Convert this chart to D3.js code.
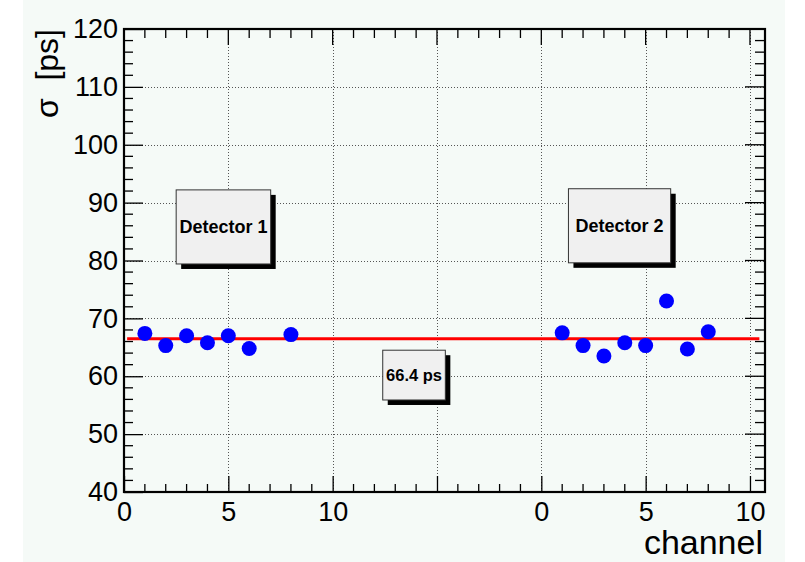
<!DOCTYPE html>
<html>
<head>
<meta charset="utf-8">
<script src="https://cdn.jsdelivr.net/npm/d3@7"></script>
<style>
  html, body { margin: 0; padding: 0; background: #ffffff; }
  svg { display: block; }
  text { font-family: "Liberation Sans", Arial, Helvetica, sans-serif; }
</style>
</head>
<body>
<svg id="chart" width="805" height="562"></svg>
<script>
// ---------------- data ----------------
const det1Channels = [1, 2, 3, 4, 5, 6, 8];
const det1Sigma    = [67.4, 65.3, 67.0, 65.8, 67.0, 64.8, 67.2];
const det2Offset   = 20;
const det2Channels = [1, 2, 3, 4, 5, 6, 7, 8];
const det2Sigma    = [67.5, 65.3, 63.5, 65.8, 65.3, 73.0, 64.7, 67.7];
const fitValue     = 66.5;
const fitRange     = [0.15, 30.45];
const fitLabel     = "66.4 ps";

const xDomain = [0, 30.72];
const yDomain = [40, 120];
const xTickValues = [0, 5, 10, 15, 20, 25, 30];
const xTickLabels = ["0", "5", "10", "", "0", "5", "10"];
const yTickValues = [40, 50, 60, 70, 80, 90, 100, 110, 120];
const yTickLabels = ["40", "50", "60", "70", "80", "90", "100", "110", "120"];
const xTitle = "channel";
const yTitle = "σ  [ps]";

// annotation boxes in data coordinates
const boxLabels = ["Detector 1", "Detector 2", fitLabel];
const boxX0 = [2.5, 21.3, 12.4];
const boxX1 = [7.03, 26.2, 15.4];
const boxY0 = [79.4, 79.6, 55.9];
const boxY1 = [92.2, 92.4, 64.5];
const boxFont = [18, 18, 16.5];

// ---------------- layout ----------------
const svg = d3.select("#chart");
const pLeft = 124, pRight = 765, pTop = 29, pBottom = 492;
const x = d3.scaleLinear().domain(xDomain).range([pLeft, pRight]);
const y = d3.scaleLinear().domain(yDomain).range([pBottom, pTop]);

// canvas background
svg.append("rect").attr("x", 23).attr("y", 0).attr("width", 762).attr("height", 562)
  .attr("fill", "#f5faf7");

// grid
const grid = svg.append("g").attr("stroke", "#555").attr("stroke-width", 1)
  .attr("stroke-dasharray", "1,2").attr("fill", "none");
grid.selectAll("line.v").data(xTickValues.filter(v => v > xDomain[0] && v < xDomain[1]))
  .join("line").attr("class", "v")
  .attr("x1", d => Math.round(x(d)) + 0.5).attr("x2", d => Math.round(x(d)) + 0.5)
  .attr("y1", pTop).attr("y2", pBottom);
grid.selectAll("line.h").data(yTickValues.filter(v => v > yDomain[0] && v < yDomain[1]))
  .join("line").attr("class", "h")
  .attr("y1", d => Math.round(y(d)) + 0.5).attr("y2", d => Math.round(y(d)) + 0.5)
  .attr("x1", pLeft).attr("x2", pRight);

// minor ticks
const xMinor = d3.range(0, 31, 1).filter(v => v % 5 !== 0);
const yMinor = d3.range(42, 120, 2).filter(v => v % 10 !== 0);
const ticks = svg.append("g").attr("stroke", "#000").attr("stroke-width", 1.3);
ticks.selectAll("line.bm").data(xMinor).join("line").attr("class", "bm")
  .attr("x1", d => x(d)).attr("x2", d => x(d)).attr("y1", pBottom).attr("y2", pBottom - 8);
ticks.selectAll("line.tm").data(xMinor).join("line").attr("class", "tm")
  .attr("x1", d => x(d)).attr("x2", d => x(d)).attr("y1", pTop).attr("y2", pTop + 9);
ticks.selectAll("line.tM").data(xTickValues).join("line").attr("class", "tM")
  .attr("x1", d => x(d)).attr("x2", d => x(d)).attr("y1", pTop).attr("y2", pTop + 16);
ticks.selectAll("line.lm").data(yMinor).join("line").attr("class", "lm")
  .attr("y1", d => y(d)).attr("y2", d => y(d)).attr("x1", pLeft).attr("x2", pLeft + 9);
ticks.selectAll("line.rm").data(yMinor).join("line").attr("class", "rm")
  .attr("y1", d => y(d)).attr("y2", d => y(d)).attr("x1", pRight).attr("x2", pRight - 10);
ticks.selectAll("line.rM").data(yTickValues).join("line").attr("class", "rM")
  .attr("y1", d => y(d)).attr("y2", d => y(d)).attr("x1", pRight).attr("x2", pRight - 20);

// bottom axis
const xAxis = d3.axisBottom(x).tickValues(xTickValues)
  .tickFormat((d, i) => xTickLabels[i]).tickSize(-16).tickPadding(10);
const gx = svg.append("g").attr("transform", `translate(0,${pBottom})`).call(xAxis);
gx.select(".domain").remove();
gx.selectAll(".tick line").attr("stroke", "#000").attr("stroke-width", 1.3);
gx.selectAll(".tick text").attr("font-size", 27).attr("fill", "#000")
  .attr("font-family", "Liberation Sans, Arial, sans-serif");

// left axis
const yAxis = d3.axisLeft(y).tickValues(yTickValues)
  .tickFormat((d, i) => yTickLabels[i]).tickSize(-19).tickPadding(6);
const gy = svg.append("g").attr("transform", `translate(${pLeft},0)`).call(yAxis);
gy.select(".domain").remove();
gy.selectAll(".tick line").attr("stroke", "#000").attr("stroke-width", 1.3);
gy.selectAll(".tick text").attr("font-size", 27).attr("fill", "#000")
  .attr("font-family", "Liberation Sans, Arial, sans-serif");

// frame
svg.append("rect").attr("x", pLeft).attr("y", pTop)
  .attr("width", pRight - pLeft).attr("height", pBottom - pTop)
  .attr("fill", "none").attr("stroke", "#000").attr("stroke-width", 2.2);

// fit line
svg.append("line")
  .attr("x1", x(fitRange[0])).attr("x2", x(fitRange[1]))
  .attr("y1", y(fitValue)).attr("y2", y(fitValue))
  .attr("stroke", "#ff0000").attr("stroke-width", 3);

// data points
const pts = det1Channels.map((c, i) => ({ x: c, y: det1Sigma[i] }))
  .concat(det2Channels.map((c, i) => ({ x: c + det2Offset, y: det2Sigma[i] })));
svg.append("g").selectAll("circle").data(pts).join("circle")
  .attr("cx", d => x(d.x)).attr("cy", d => y(d.y)).attr("r", 7.5)
  .attr("fill", "#0000ff");

// annotation boxes
const boxes = boxLabels.map((t, i) => ({ t, x0: boxX0[i], x1: boxX1[i], y0: boxY0[i], y1: boxY1[i], fs: boxFont[i] }));
const bg = svg.append("g").selectAll("g").data(boxes).join("g");
bg.append("rect")
  .attr("x", d => x(d.x0) + 5).attr("y", d => y(d.y1) + 5)
  .attr("width", d => x(d.x1) - x(d.x0)).attr("height", d => y(d.y0) - y(d.y1))
  .attr("fill", "#000");
bg.append("rect")
  .attr("x", d => x(d.x0)).attr("y", d => y(d.y1))
  .attr("width", d => x(d.x1) - x(d.x0)).attr("height", d => y(d.y0) - y(d.y1))
  .attr("fill", "#f0f0f0").attr("stroke", "#333").attr("stroke-width", 1);
bg.append("text")
  .attr("x", d => (x(d.x0) + x(d.x1)) / 2)
  .attr("y", d => (y(d.y0) + y(d.y1)) / 2)
  .attr("dy", "0.36em")
  .attr("text-anchor", "middle")
  .attr("font-weight", "bold")
  .attr("font-size", d => d.fs)
  .attr("fill", "#000")
  .text(d => d.t);

// axis titles
svg.append("text")
  .attr("x", 763).attr("y", 554)
  .attr("text-anchor", "end").attr("font-size", 34)
  .attr("fill", "#000")
  .text(xTitle);

svg.append("text")
  .attr("transform", `translate(58,${pTop}) rotate(-90)`)
  .attr("text-anchor", "end").attr("font-size", 32)
  .style("white-space", "pre")
  .attr("fill", "#000")
  .text(yTitle);
</script>
</body>
</html>
